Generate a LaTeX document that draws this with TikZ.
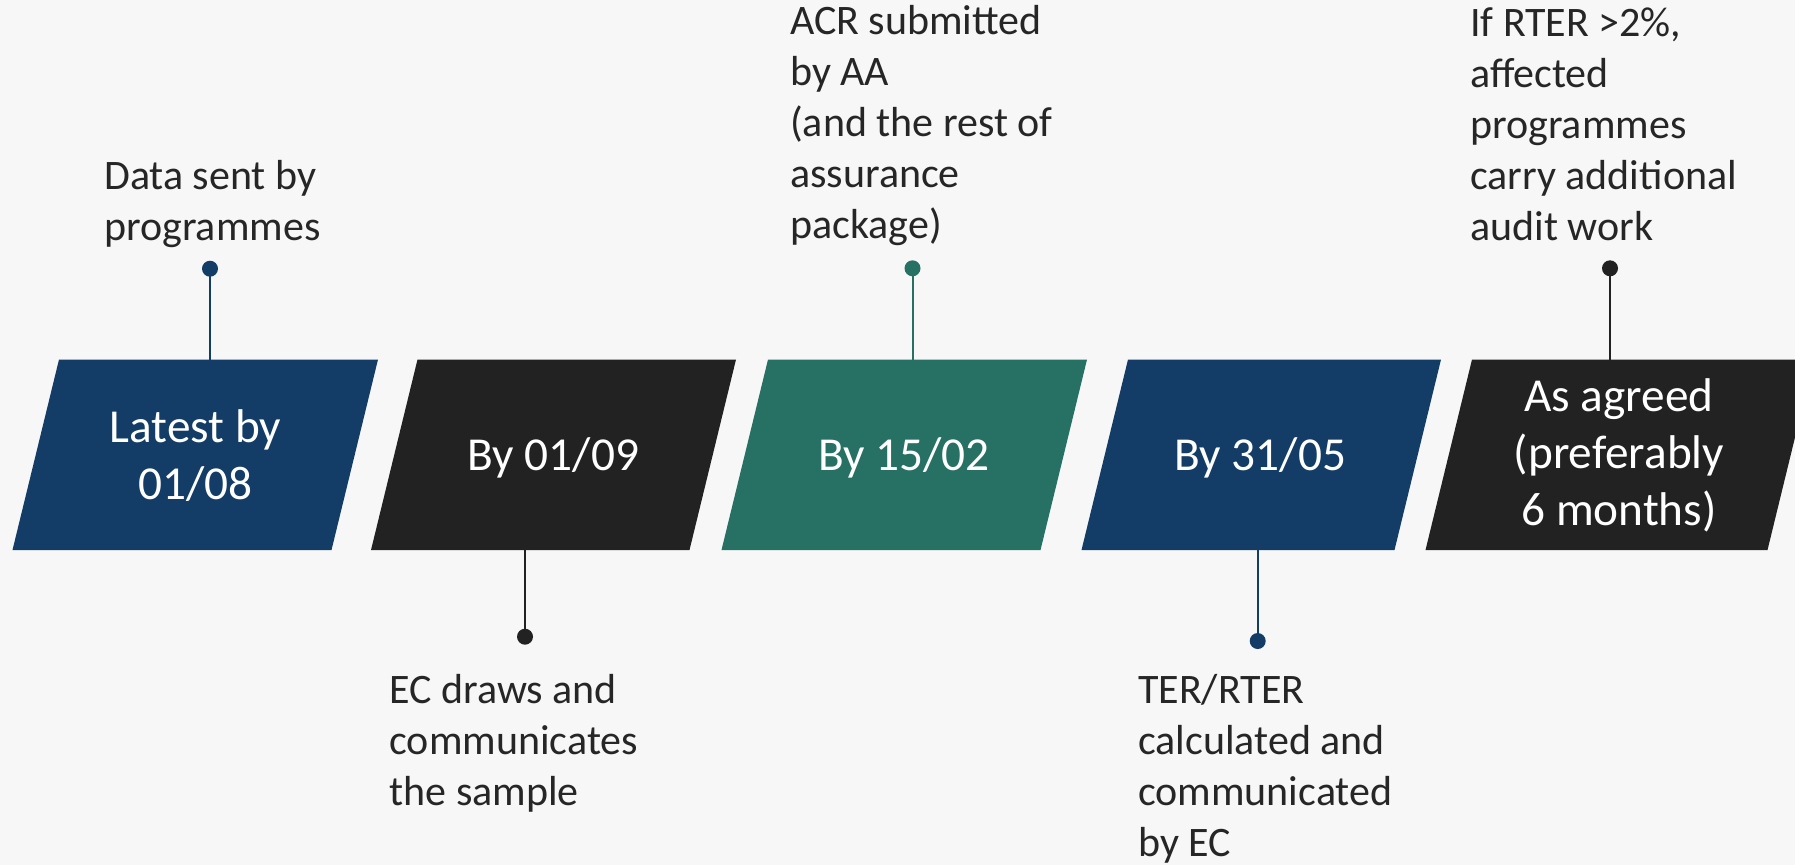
\documentclass[tikz,border=0pt]{standalone}
\usepackage{fontspec}
\setmainfont{Carlito}
\definecolor{bgcol}{HTML}{F7F7F7}
\definecolor{navy}{HTML}{133D66}
\definecolor{coal}{HTML}{222222}
\definecolor{teal}{HTML}{267064}
\definecolor{ink}{HTML}{262626}
\tikzset{
  % multi-line nodes are placed by the baseline of their last line
  lbl/.style={anchor=base west, inner sep=0pt, align=left, text=ink,
              font=\fontsize{42}{51}\selectfont},
  boxtext/.style={anchor=base, inner sep=0pt, align=center, text=white,
              font=\fontsize{47.3}{57}\selectfont},
  dot/.style={circle, fill=#1, inner sep=0pt, minimum size=16pt},
  conn/.style={draw=#1, line width=2pt},
}
\begin{document}
\begin{tikzpicture}[x=1pt, y=-1pt]
  \useasboundingbox (0,0) rectangle (1795,865);
  \clip (0,0) rectangle (1795,865);
  \fill[bgcol] (0,0) rectangle (1795,865);

  % timeline boxes
  \fill[navy] (59,359.5) -- (378,359.5) -- (331.5,550) -- (12.5,550) -- cycle;
  \fill[coal] (417.5,359.5) -- (736,359.5) -- (689.5,550) -- (371,550) -- cycle;
  \fill[teal] (768,359.5) -- (1087,359.5) -- (1040.5,550) -- (721.5,550) -- cycle;
  \fill[navy] (1128,359.5) -- (1441,359.5) -- (1394.5,550) -- (1081.5,550) -- cycle;
  \fill[coal] (1472,359.5) -- (1814,359.5) -- (1767.5,550) -- (1425.5,550) -- cycle;

  \node[boxtext] (b1) at (195.5,499.3) {Latest by\\01/08};
  \node[boxtext] (b2) at (553.3,470.7) {By 01/09};
  \node[boxtext] (b3) at (904,470.7) {By 15/02};
  \node[boxtext] (b4) at (1260.3,470.7) {By 31/05};
  \node[boxtext] (b5) at (1619,525) {As agreed\\(preferably\\6 months)};

  % attachment points on the box edges
  \coordinate (e1) at (210,359.5);
  \coordinate (e2) at (525,550);
  \coordinate (e3) at (912.5,359.5);
  \coordinate (e4) at (1257.7,550);
  \coordinate (e5) at (1610,359.5);

  % dots
  \node[dot=navy] (d1) at (210,268.7) {};
  \node[dot=coal] (d2) at (525,636.7) {};
  \node[dot=teal] (d3) at (912.5,268.3) {};
  \node[dot=navy] (d4) at (1257.7,641) {};
  \node[dot=coal] (d5) at (1610,268.3) {};

  \draw[conn=navy] (d1.center) -- (e1);
  \draw[conn=coal] (d2.center) -- (e2);
  \draw[conn=teal] (d3.center) -- (e3);
  \draw[conn=navy] (d4.center) -- (e4);
  \draw[conn=coal] (d5.center) -- (e5);

  % descriptions
  \node[lbl] (l1) at (104,240) {Data sent by\\programmes};
  \node[lbl] (l2) at (389.3,805) {EC draws and\\communicates\\the sample};
  \node[lbl] (l3) at (790,238.8) {ACR submitted\\by AA\\(and the rest of\\assurance\\package)};
  \node[lbl] (l4) at (1138,856.7) {TER/RTER\\calculated and\\communicated\\by EC};
  \node[lbl] (l5) at (1470,240) {If RTER >2\%,\\affected\\programmes\\carry additional\\audit work};
\end{tikzpicture}
\end{document}
